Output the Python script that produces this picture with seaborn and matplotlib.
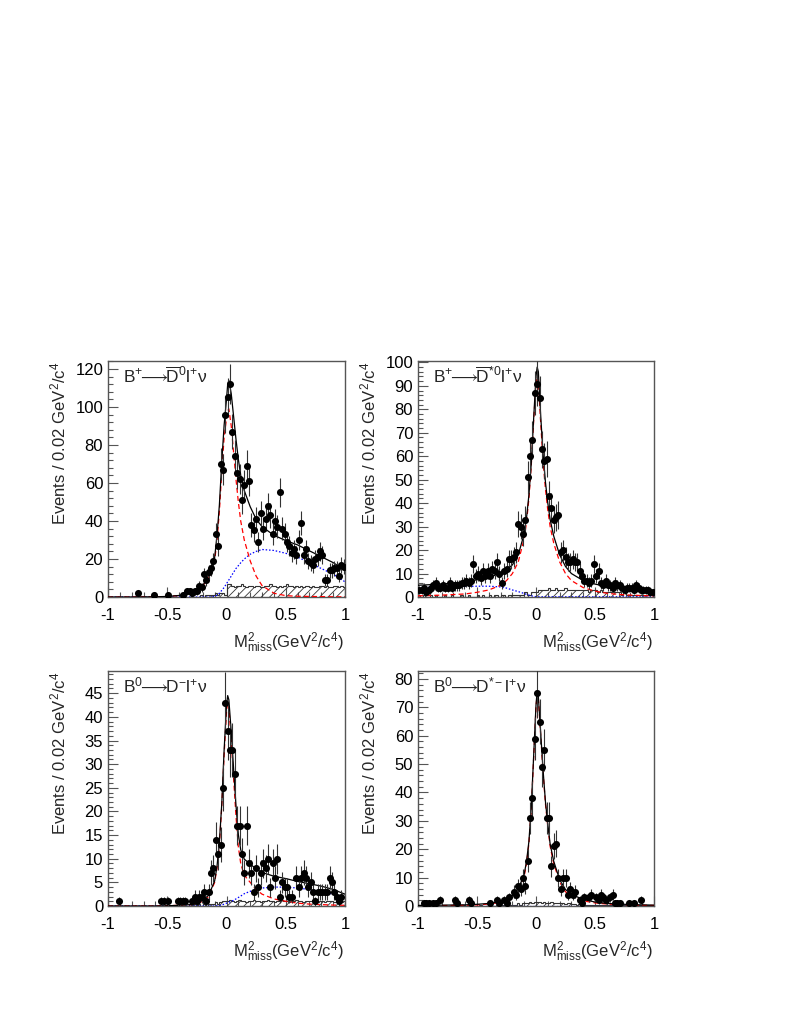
import numpy as np
import pandas as pd
import matplotlib
matplotlib.use("Agg")
import matplotlib.pyplot as plt
from matplotlib.ticker import MultipleLocator
import seaborn as sns

# ---- data: data points (bin centers, counts) ----
p1_x = [-0.75, -0.61, -0.49, -0.37, -0.33, -0.31, -0.29, -0.27, -0.25, -0.23, -0.21, -0.19, -0.17, -0.15,
        -0.13, -0.11, -0.09, -0.07, -0.05, -0.03, -0.01, 0.01, 0.03, 0.05, 0.07, 0.09, 0.11, 0.13, 0.15,
        0.17, 0.19, 0.21, 0.23, 0.25, 0.27, 0.29, 0.31, 0.33, 0.35, 0.37, 0.39, 0.41, 0.43, 0.45, 0.47,
        0.49, 0.51, 0.53, 0.55, 0.57, 0.59, 0.61, 0.63, 0.65, 0.67, 0.69, 0.71, 0.73, 0.75, 0.77, 0.79,
        0.81, 0.83, 0.85, 0.87, 0.89, 0.91, 0.93, 0.95, 0.97, 0.99]
p1_y = [2, 1, 1, 1, 3, 3, 2, 3, 3, 6, 5, 12, 9, 13, 15, 19, 33, 27, 70, 67, 96,
        105, 112, 87, 74, 65, 62, 51, 59, 69, 61, 38, 35, 41, 29, 44, 36, 41, 48, 43, 33,
        40, 37, 55, 36, 33, 29, 27, 23, 25, 22, 30, 39, 22, 25, 19, 18, 17, 20, 21, 24,
        22, 9, 9, 14, 14, 15, 15, 11, 17, 16]

p2_x = [-0.99, -0.97, -0.95, -0.93, -0.91, -0.89, -0.87, -0.85, -0.83, -0.81,
        -0.79, -0.77, -0.75, -0.73, -0.71, -0.69, -0.67, -0.65, -0.63, -0.61,
        -0.59, -0.57, -0.55, -0.53, -0.51, -0.49, -0.47, -0.45, -0.43, -0.41,
        -0.39, -0.37, -0.35, -0.33, -0.31, -0.29, -0.27, -0.25, -0.23, -0.21,
        -0.19, -0.17, -0.15, -0.13, -0.11, -0.09, -0.07, -0.05, -0.03, -0.01,
        0.01, 0.03, 0.05, 0.07, 0.09, 0.11, 0.13, 0.15, 0.17, 0.19,
        0.21, 0.23, 0.25, 0.27, 0.29, 0.31, 0.33, 0.35, 0.37, 0.39,
        0.41, 0.43, 0.45, 0.47, 0.49, 0.51, 0.53, 0.55, 0.57, 0.59,
        0.61, 0.63, 0.65, 0.67, 0.69, 0.71, 0.73, 0.75, 0.77, 0.79,
        0.81, 0.83, 0.85, 0.87, 0.89, 0.91, 0.93, 0.95, 0.97, 0.99]
p2_y = [3, 3, 4, 2, 3, 4, 5, 6, 4, 4,
        5, 4, 4, 6, 4, 5, 5, 5, 6, 6,
        7, 6, 7, 14, 9, 10, 8, 11, 9, 11,
        9, 12, 11, 15, 10, 6, 11, 12, 16, 16,
        17, 19, 31, 30, 27, 33, 51, 60, 67, 87,
        91, 85, 63, 58, 59, 43, 38, 33, 34, 35,
        19, 20, 17, 15, 15, 16, 15, 15, 11, 9,
        7, 7, 6, 7, 14, 9, 11, 6, 5, 7,
        5, 5, 4, 6, 5, 5, 4, 3, 4, 4,
        4, 3, 5, 4, 3, 3, 3, 3, 2, 2]

p3_x = [-0.91, -0.55, -0.53, -0.49, -0.41, -0.39, -0.37, -0.35, -0.29, -0.27, -0.25, -0.23, -0.21,
        -0.19, -0.17, -0.15, -0.13, -0.11, -0.09, -0.07, -0.05, -0.03, -0.01, 0.01, 0.03, 0.05,
        0.07, 0.09, 0.11, 0.13, 0.15, 0.17, 0.19, 0.21, 0.23, 0.25, 0.27, 0.29, 0.31, 0.33, 0.35,
        0.37, 0.39, 0.41, 0.43, 0.45, 0.47, 0.49, 0.51, 0.53, 0.55, 0.59, 0.61, 0.63, 0.65, 0.67,
        0.69, 0.71, 0.73, 0.75, 0.77, 0.79, 0.81, 0.83, 0.85, 0.87, 0.89, 0.91, 0.93, 0.95, 0.97]
p3_y = [1, 1, 1, 1, 1, 1, 1, 1, 1, 2, 1, 2, 2,
        3, 1, 3, 7, 8, 14, 11, 13, 25, 43, 37, 33, 33,
        28, 17, 17, 11, 7, 17, 9, 7, 3, 8, 4, 7, 9, 8, 10,
        4, 9, 6, 10, 2, 5, 4, 4, 2, 2, 6, 4, 6, 7, 6,
        4, 5, 3, 1, 3, 3, 3, 3, 3, 6, 5, 3, 2, 1, 2]

p4_x = [-0.95, -0.93, -0.91, -0.87, -0.85, -0.81, -0.69, -0.67, -0.57, -0.55, -0.39, -0.33, -0.31,
        -0.27, -0.25, -0.23, -0.19, -0.17, -0.15, -0.13, -0.11, -0.09, -0.07, -0.05, -0.03, -0.01,
        0.01, 0.03, 0.05, 0.07, 0.09, 0.11, 0.13, 0.15, 0.17, 0.19, 0.21, 0.23, 0.25, 0.27, 0.29,
        0.31, 0.33, 0.37, 0.39, 0.41, 0.45, 0.47, 0.51, 0.53, 0.55, 0.57, 0.59, 0.63, 0.65, 0.67,
        0.69, 0.71, 0.79, 0.83, 0.89]
p4_y = [1, 1, 1, 1, 1, 2, 2, 1, 2, 1, 1, 2, 1,
        2, 1, 3, 5, 4, 7, 6, 10, 7, 16, 31, 38, 59,
        75, 65, 49, 55, 31, 31, 14, 21, 22, 10, 6, 10, 10, 4, 6,
        4, 5, 2, 1, 3, 3, 4, 3, 2, 4, 3, 2, 3, 4, 1,
        1, 1, 1, 1, 2]

# ---- fit curves, read at these x positions ----
cx = [-1.0, -0.8, -0.6, -0.5, -0.4, -0.3, -0.25, -0.2, -0.15, -0.1, -0.08, -0.06, -0.04, -0.02, 0.0,
      0.01, 0.02, 0.04, 0.06, 0.08, 0.1, 0.12, 0.15, 0.2, 0.25, 0.3, 0.4, 0.5, 0.6, 0.7, 0.8, 0.9, 1.0]

red1 = [0, 0, 0.1, 0.3, 0.8, 2, 3.5, 6, 10, 19, 30, 45, 66, 84, 94, 98, 99, 90, 76, 62, 50, 40, 30,
        19, 11, 6, 2, 0.7, 0.4, 0.3, 0.2, 0.1, 0.1]
blue1 = [0, 0, 0, 0, 0, 0, 0, 0, 0, 0.3, 1, 2, 3.5, 5, 7, 8, 9, 11, 13, 15, 16.5, 18, 20, 22.5, 24,
         25, 24.5, 23, 21, 18, 15, 12, 8]
black1 = [0, 0, 0.1, 0.3, 0.8, 2, 3.5, 6, 11.5, 20.8, 32.5, 48.5, 71, 90.5, 104, 112, 114, 107, 95,
          83, 72.5, 64, 56, 47.5, 41, 37, 32.5, 29.7, 27.4, 24.3, 21.2, 18.1, 14.1]

red2 = [0.5, 0.8, 1.3, 2, 3, 5, 7, 10, 15, 25, 32, 42, 56, 75, 91, 94, 92, 74, 58, 46, 37, 30, 23,
        15, 10, 7, 4, 2.5, 1.6, 1.1, 0.8, 0.6, 0.5]
blue2 = [4, 4.2, 4.5, 4.6, 4.6, 4.3, 3.8, 3, 2.3, 1.5, 1.1, 0.8, 0.5, 0.3, 0.1, 0.1, 0.1, 0.1, 0.1,
         0.1, 0.1, 0.1, 0.1, 0.1, 0.1, 0.1, 0.1, 0.1, 0.1, 0.1, 0.1, 0.1, 0.1]
black2 = [5, 5.5, 6.5, 7.3, 8.4, 10, 11.5, 13.7, 18, 27, 34, 43.5, 57, 76, 94, 98, 96, 77, 61, 49,
          40, 33, 26, 18, 13, 10, 7, 5.5, 4.5, 3.5, 2.5, 2.2, 2]

red3 = [0, 0, 0, 0.05, 0.15, 0.3, 0.5, 1, 2, 5, 8, 13, 21, 32, 41, 43, 42, 35, 27, 19, 12.5, 9, 6.5,
        5, 3.5, 2.5, 1.5, 1, 0.6, 0.4, 0.3, 0.2, 0.15]
blue3 = [0, 0, 0, 0, 0, 0, 0, 0, 0, 0, 0.05, 0.1, 0.2, 0.4, 0.6, 0.7, 0.8, 1, 1.2, 1.5, 1.8, 2.1,
         2.6, 3.1, 3.5, 3.8, 4, 4, 3.8, 3.5, 3.1, 2.5, 1.6]
black3 = [0, 0, 0, 0.05, 0.15, 0.3, 0.6, 1.2, 2.3, 5.3, 8.4, 13.5, 21.6, 33, 42.4, 44.5, 43.6, 36.8,
          29, 21.3, 15.1, 11.9, 9.9, 8.9, 7.8, 7.1, 6.3, 5.8, 5.2, 4.7, 4.2, 3.5, 2.5]

red4 = [0.1, 0.15, 0.25, 0.4, 0.7, 1.3, 2, 3.2, 5.5, 10.5, 15, 22, 34, 52, 70, 75, 73, 60, 47, 36,
        28, 21, 15, 8.5, 5, 3.5, 1.8, 1.1, 0.7, 0.5, 0.35, 0.25, 0.2]
blue4 = [0.1, 0.1, 0.1, 0.1, 0.1, 0.1, 0.1, 0.1, 0.1, 0.1, 0.1, 0.1, 0.1, 0.1, 0.1, 0.1, 0.1, 0.1,
         0.1, 0.1, 0.1, 0.1, 0.1, 0.1, 0.1, 0.1, 0.1, 0.1, 0.1, 0.1, 0.1, 0.1, 0.1]
black4 = [0.2, 0.3, 0.4, 0.6, 0.9, 1.5, 2.3, 3.6, 6, 11.2, 15.8, 22.8, 34.8, 52.8, 70.8, 75.8, 73.8,
          60.8, 47.8, 36.8, 28.8, 21.8, 15.8, 9.3, 5.8, 4.1, 2.3, 1.4, 0.9, 0.7, 0.5, 0.4, 0.3]

# ---- peaking background histograms (hatched), 100 bins from -1 to 1 ----
h1 = [0, 0, 0, 0, 0, 0, 0, 0, 0, 0,
      0, 0, 0, 0, 0, 0, 0, 0, 0, 0,
      0, 0, 0, 0, 0, 0, 0, 0, 0, 0,
      0, 0, 0, 0, 0, 0, 0, 0, 0, 1,
      0, 1, 1, 1, 1, 2, 1, 2, 2, 1,
      7, 7, 6, 5, 6, 6, 7, 6, 5, 6,
      6, 5, 6, 6, 5, 5, 6, 6, 7, 6,
      6, 5, 6, 5, 6, 7, 6, 6, 5, 6,
      5, 6, 5, 6, 6, 5, 6, 5, 5, 6,
      6, 5, 6, 5, 5, 6, 6, 5, 6, 5]
h2 = [1, 0, 1, 0, 0, 1, 0, 1, 0, 0,
      0, 1, 0, 0, 1, 0, 0, 0, 1, 0,
      0, 1, 0, 0, 0, 1, 0, 1, 0, 0,
      1, 0, 1, 1, 0, 1, 1, 0, 1, 1,
      1, 1, 1, 1, 1, 2, 1, 1, 2, 2,
      2, 3, 3, 3, 3, 4, 3, 3, 4, 3,
      3, 3, 4, 3, 3, 3, 3, 3, 3, 3,
      3, 3, 2, 3, 3, 3, 2, 3, 2, 2,
      2, 2, 2, 2, 2, 2, 1, 2, 1, 1,
      1, 1, 1, 1, 1, 1, 1, 1, 1, 1]
h3 = [0, 0, 0, 0, 0, 0, 0, 0, 0, 0,
      0, 0, 0, 0, 0, 0, 0, 0, 0, 0,
      0, 0, 0, 0, 0, 0, 0, 0, 0, 0,
      0, 0, 0, 0, 0.5, 0, 0.5, 0, 0.5, 0,
      0.5, 0, 0.5, 0.5, 0.5, 0.8, 0.5, 0.8, 1, 1,
      1, 1.2, 1, 0.8, 1, 1.2, 1, 1, 0.8, 1,
      1, 1.2, 1, 1, 0.8, 1, 1, 1.2, 1, 1,
      0.8, 1, 1, 1.2, 1, 1, 0.8, 1, 1, 1.2,
      1, 1, 0.8, 1, 1, 1, 1.2, 1, 0.8, 1,
      1, 0.8, 1, 1, 1, 0.8, 1, 1, 0.8, 1]
h4 = [0.5, 0, 0, 0.5, 0, 0, 0, 0.5, 0, 0,
      0, 0.5, 0, 0, 0, 0.5, 0, 0, 0, 0.5,
      0, 0, 0.5, 0, 0, 0, 0.5, 0, 0, 0,
      0.5, 0, 0, 0.5, 0, 0.5, 0.5, 0, 0.5, 0.5,
      0.5, 0.5, 1, 0.5, 1, 1, 1, 1.5, 1, 1.5,
      1.5, 1.5, 1, 1.5, 1, 1, 1.5, 1, 1, 1,
      1, 1, 0.8, 1, 1, 0.8, 0.8, 0.5, 0.8, 0.5,
      0.5, 0.5, 0.5, 0.3, 0.5, 0.3, 0.3, 0.5, 0.3, 0.3,
      0.3, 0.3, 0.3, 0.5, 0.3, 0.3, 0.3, 0.3, 0.3, 0.3,
      0.3, 0.3, 0.3, 0.3, 0.3, 0.3, 0.3, 0.3, 0.3, 0.3]

titles = [r"B$^{+}\!\!\longrightarrow\!\!\overline{\mathrm{D}}^{0}$l$^{+}$ν",
          r"B$^{+}\!\!\longrightarrow\!\!\overline{\mathrm{D}}^{*0}$l$^{+}$ν",
          r"B$^{0}\!\!\longrightarrow\!\!$D$^{-}$l$^{+}$ν",
          r"B$^{0}\!\!\longrightarrow\!\!$D$^{*-}$l$^{+}$ν"]
ymaxs = [124.2, 100.6, 49.7, 82.8]
ymajor = [20, 10, 5, 10]
yminor = [4, 2, 1, 2]

# ---- style ----
sns.set_style("ticks")
plt.rcParams["font.family"] = ["Liberation Sans", "DejaVu Sans"]
plt.rcParams["mathtext.fontset"] = "custom"
plt.rcParams["mathtext.rm"] = "Liberation Sans"
plt.rcParams["mathtext.it"] = "Liberation Sans:italic"
plt.rcParams["mathtext.bf"] = "Liberation Sans:bold"
plt.rcParams["mathtext.fallback"] = "stixsans"
plt.rcParams["hatch.linewidth"] = 0.6
plt.rcParams["hatch.color"] = "#333333"

W, H = 785, 1015
fig = plt.figure(figsize=(W / 100, H / 100), dpi=100)

# pixel boxes: (left, top, right, bottom)
boxes = [(108, 361, 345, 597), (418, 361, 654, 597),
         (108, 671, 345, 906), (418, 671, 654, 906)]

edges = np.linspace(-1, 1, 101)

panels = [(p1_x, p1_y, red1, blue1, black1, h1),
          (p2_x, p2_y, red2, blue2, black2, h2),
          (p3_x, p3_y, red3, blue3, black3, h3),
          (p4_x, p4_y, red4, blue4, black4, h4)]

frame_col = "#555555"

for i, (px, py, red, blue, black, hh) in enumerate(panels):
    l, t, r, b = boxes[i]
    ax = fig.add_axes([l / W, 1 - b / H, (r - l) / W, (b - t) / H])

    # hatched peaking background
    ax.stairs(hh, edges, fill=True, facecolor="none", edgecolor="#333333",
              hatch="////", linewidth=0.8, zorder=1)

    # fit components
    sns.lineplot(x=cx, y=blue, ax=ax, color="#0000ff", linestyle=(0, (1.2, 1.5)), linewidth=0.9,
                 estimator=None, sort=False, zorder=2)
    sns.lineplot(x=cx, y=red, ax=ax, color="#ff0000", linestyle=(0, (4, 2.5)), linewidth=0.9,
                 estimator=None, sort=False, zorder=3)
    sns.lineplot(x=cx, y=black, ax=ax, color="black", linewidth=0.9,
                 estimator=None, sort=False, zorder=4)

    # data points with poisson errors
    pts = pd.DataFrame({"x": px, "y": py})
    ax.errorbar(pts["x"], pts["y"], yerr=np.sqrt(pts["y"]), fmt="none", ecolor="#333333",
                elinewidth=0.8, capsize=0, zorder=5)
    sns.scatterplot(data=pts, x="x", y="y", ax=ax, color="black", s=26, linewidth=0,
                    zorder=6, legend=False)

    ax.set_xlim(-1, 1)
    ax.set_ylim(0, ymaxs[i])
    ax.set_xlabel("")
    ax.set_ylabel("")
    ax.xaxis.set_minor_locator(MultipleLocator(0.1))
    ax.yaxis.set_major_locator(MultipleLocator(ymajor[i]))
    ax.yaxis.set_minor_locator(MultipleLocator(yminor[i]))
    ax.set_xticks([-1, -0.5, 0, 0.5, 1])
    ax.set_xticklabels(["-1", "-0.5", "0", "0.5", "1"])
    ax.tick_params(axis="both", which="both", direction="in", colors=frame_col,
                   labelcolor="black", labelsize=12, top=False, right=False, width=0.8)
    ax.tick_params(axis="both", which="major", length=7)
    ax.tick_params(axis="both", which="minor", length=3.5)
    ax.tick_params(axis="x", which="major", pad=8)
    ax.tick_params(axis="y", which="major", pad=3.5)
    for sp in ax.spines.values():
        sp.set_color(frame_col)
        sp.set_linewidth(1.0)

    ax.text(0.063, 0.907, titles[i], transform=ax.transAxes, fontsize=12.5,
            ha="left", va="baseline", zorder=10)

    # axis titles
    fig.text((l - 50) / W, 1 - (t + 1) / H, r"Events / 0.02 GeV$^{2}$/c$^{4}$",
             rotation=90, ha="center", va="top", fontsize=12)
    fig.text((r - 1) / W, 1 - (b + 51) / H, r"M$^{2}_{\mathrm{miss}}$(GeV$^{2}$/c$^{4}$)",
             ha="right", va="baseline", fontsize=12)

fig.savefig("out.png", dpi=100, facecolor="white")
